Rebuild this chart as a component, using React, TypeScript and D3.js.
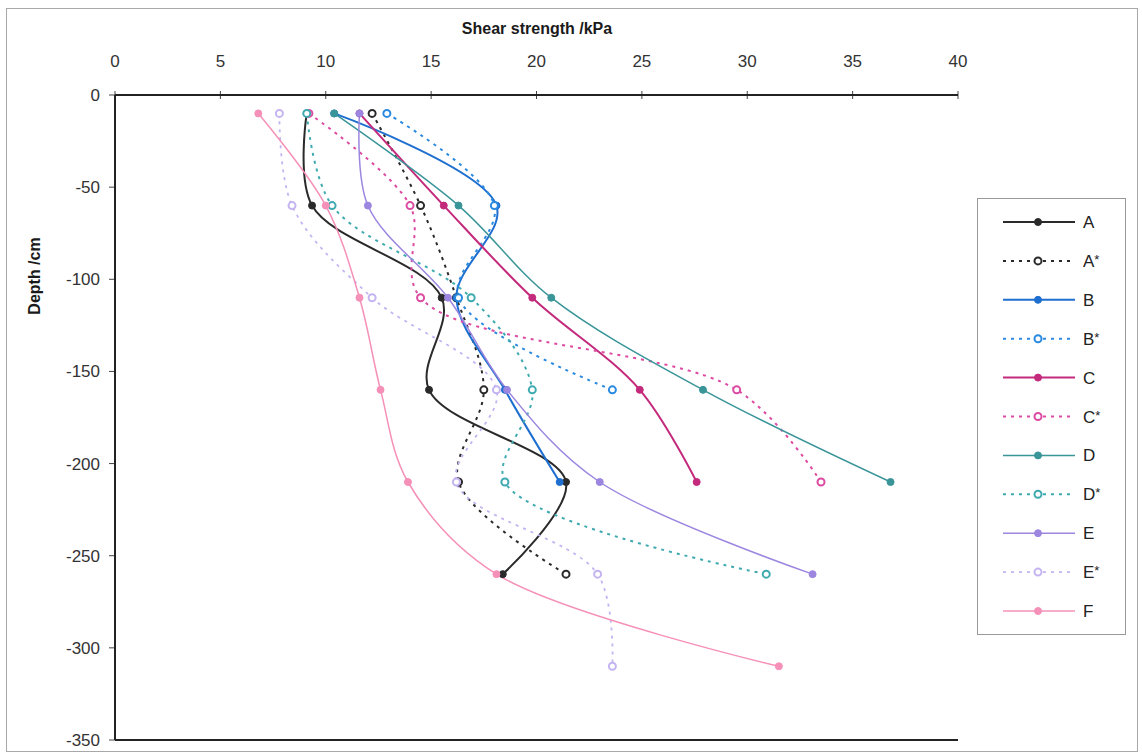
import React, { useEffect, useRef } from "react";
import * as d3 from "d3";

// depth of each sampling level (cm)
const depths = [-10, -60, -110, -160, -210, -260, -310];

// shear strength (kPa) read per level, top down
const seriesA = [9.1, 9.35, 15.5, 14.9, 21.4, 18.4];
const seriesAs = [12.2, 14.5, 16.2, 17.5, 16.3, 21.4];
const seriesB = [10.4, 18.1, 16.2, 18.5, 21.1];
const seriesBs = [12.9, 18.0, 16.3, 23.6];
const seriesC = [11.6, 15.6, 19.8, 24.9, 27.6];
const seriesCs = [9.2, 14.0, 14.5, 29.5, 33.5];
const seriesD = [10.4, 16.3, 20.7, 27.9, 36.8];
const seriesDs = [9.1, 10.3, 16.9, 19.8, 18.5, 30.9];
const seriesE = [11.6, 12.0, 15.8, 18.6, 23.0, 33.1];
const seriesEs = [7.8, 8.4, 12.2, 18.1, 16.2, 22.9, 23.6];
const seriesF = [6.8, 10.0, 11.6, 12.6, 13.9, 18.1, 31.5];

const names = ["A", "A*", "B", "B*", "C", "C*", "D", "D*", "E", "E*", "F"];
const values = [seriesA, seriesAs, seriesB, seriesBs, seriesC, seriesCs, seriesD, seriesDs, seriesE, seriesEs, seriesF];

const xTicks = [0, 5, 10, 15, 20, 25, 30, 35, 40];
const yTicks = [0, -50, -100, -150, -200, -250, -300, -350];

// line styles
const colors = ["#2a2a2a", "#2a2a2a", "#1f6fd0", "#2a8ae0", "#c42a7c", "#dc4aa2", "#3a9599", "#3faab0", "#9c86e0", "#c4b4f2", "#f590b8"];
const widths = [2, 2, 2, 2, 2, 2, 1.5, 2, 1.5, 1.8, 1.5];
const dashed = [false, true, false, true, false, true, false, true, false, true, false];

const App = () => {
  const ref = useRef(null);

  useEffect(() => {
    const width = 1142,
      height = 756;
    const left = 115,
      right = 958,
      top = 95,
      bottom = 740;

    const svg = d3.select(ref.current);
    svg.selectAll("*").remove();
    svg.attr("width", width).attr("height", height);

    svg.append("rect").attr("width", width).attr("height", height).attr("fill", "#fff");

    // outer chart border
    svg
      .append("rect")
      .attr("x", 6.5)
      .attr("y", 8.5)
      .attr("width", 1131)
      .attr("height", 743)
      .attr("fill", "none")
      .attr("stroke", "#a8a8a8");

    const x = d3.scaleLinear().domain([0, 40]).range([left, right]);
    const y = d3.scaleLinear().domain([0, -350]).range([top, bottom]);

    const font = "Liberation Sans, Arial, sans-serif";

    // title
    svg
      .append("text")
      .attr("x", 537)
      .attr("y", 34)
      .attr("text-anchor", "middle")
      .style("font-family", font)
      .style("font-weight", "bold")
      .style("font-size", "16px")
      .attr("fill", "#1a1a1a")
      .text("Shear strength /kPa");

    svg
      .append("text")
      .attr("transform", `translate(40,276) rotate(-90)`)
      .attr("text-anchor", "middle")
      .style("font-family", font)
      .style("font-weight", "bold")
      .style("font-size", "16px")
      .attr("fill", "#1a1a1a")
      .text("Depth /cm");

    // x ticks on top
    svg
      .selectAll(".xt")
      .data(xTicks)
      .enter()
      .append("text")
      .attr("x", (d) => x(d))
      .attr("y", 67)
      .attr("text-anchor", "middle")
      .style("font-family", font)
      .style("font-size", "17px")
      .attr("fill", "#333")
      .text((d) => d);

    svg
      .selectAll(".xtl")
      .data(xTicks)
      .enter()
      .append("line")
      .attr("x1", (d) => x(d))
      .attr("x2", (d) => x(d))
      .attr("y1", top - 4)
      .attr("y2", top + 4)
      .attr("stroke", "#444");

    // y ticks
    svg
      .selectAll(".yt")
      .data(yTicks)
      .enter()
      .append("text")
      .attr("x", 100)
      .attr("y", (d) => y(d) + 6)
      .attr("text-anchor", "end")
      .style("font-family", font)
      .style("font-size", "17px")
      .attr("fill", "#333")
      .text((d) => d);

    svg
      .selectAll(".ytl")
      .data(yTicks)
      .enter()
      .append("line")
      .attr("x1", left - 6)
      .attr("x2", left)
      .attr("y1", (d) => y(d))
      .attr("y2", (d) => y(d))
      .attr("stroke", "#444");

    // axes lines
    svg.append("line").attr("x1", left).attr("x2", right).attr("y1", top).attr("y2", top).attr("stroke", "#222").attr("stroke-width", 2);
    svg.append("line").attr("x1", left).attr("x2", left).attr("y1", top).attr("y2", bottom).attr("stroke", "#222").attr("stroke-width", 2);
    svg.append("line").attr("x1", left).attr("x2", right).attr("y1", bottom).attr("y2", bottom).attr("stroke", "#222").attr("stroke-width", 2);

    // smoothed lines, like Excel's smooth option
    const line = d3
      .line()
      .x((d) => x(d[0]))
      .y((d) => y(d[1]))
      .curve(d3.curveCatmullRom.alpha(0.5));

    const g = svg.append("g");
    names.forEach((name, i) => {
      const pts = values[i].map((v, j) => [v, depths[j]]);
      g.append("path")
        .attr("d", line(pts))
        .attr("fill", "none")
        .attr("stroke", colors[i])
        .attr("stroke-width", widths[i])
        .attr("stroke-dasharray", dashed[i] ? "3,5" : null);
    });

    names.forEach((name, i) => {
      const pts = values[i].map((v, j) => [v, depths[j]]);
      g.selectAll(null)
        .data(pts)
        .enter()
        .append("circle")
        .attr("cx", (d) => x(d[0]))
        .attr("cy", (d) => y(d[1]))
        .attr("r", 3.5)
        .attr("fill", dashed[i] ? "#fff" : colors[i])
        .attr("stroke", colors[i])
        .attr("stroke-width", dashed[i] ? 2 : 1);
    });

    // legend
    const lg = svg.append("g");
    lg.append("rect")
      .attr("x", 977.5)
      .attr("y", 198.5)
      .attr("width", 148)
      .attr("height", 436)
      .attr("fill", "#fff")
      .attr("stroke", "#999");

    names.forEach((name, i) => {
      const ly = 222 + i * 38.9;
      lg.append("line")
        .attr("x1", 1003)
        .attr("x2", 1075)
        .attr("y1", ly)
        .attr("y2", ly)
        .attr("stroke", colors[i])
        .attr("stroke-width", widths[i])
        .attr("stroke-dasharray", dashed[i] ? "3,5" : null);
      lg.append("circle")
        .attr("cx", 1038)
        .attr("cy", ly)
        .attr("r", 3.5)
        .attr("fill", dashed[i] ? "#fff" : colors[i])
        .attr("stroke", colors[i])
        .attr("stroke-width", dashed[i] ? 2 : 1);
      const t = lg
        .append("text")
        .attr("x", 1083)
        .attr("y", ly + 6)
        .style("font-family", font)
        .style("font-size", "17px")
        .attr("fill", "#222");
      t.append("tspan").text(name.replace("*", ""));
      if (name.includes("*")) {
        t.append("tspan").attr("dy", -3).style("font-size", "13px").text("*");
      }
    });
  }, []);

  return <svg ref={ref} style={{ position: "absolute", left: 0, top: 0 }} width="1142" height="756"></svg>;
};

export default App;
